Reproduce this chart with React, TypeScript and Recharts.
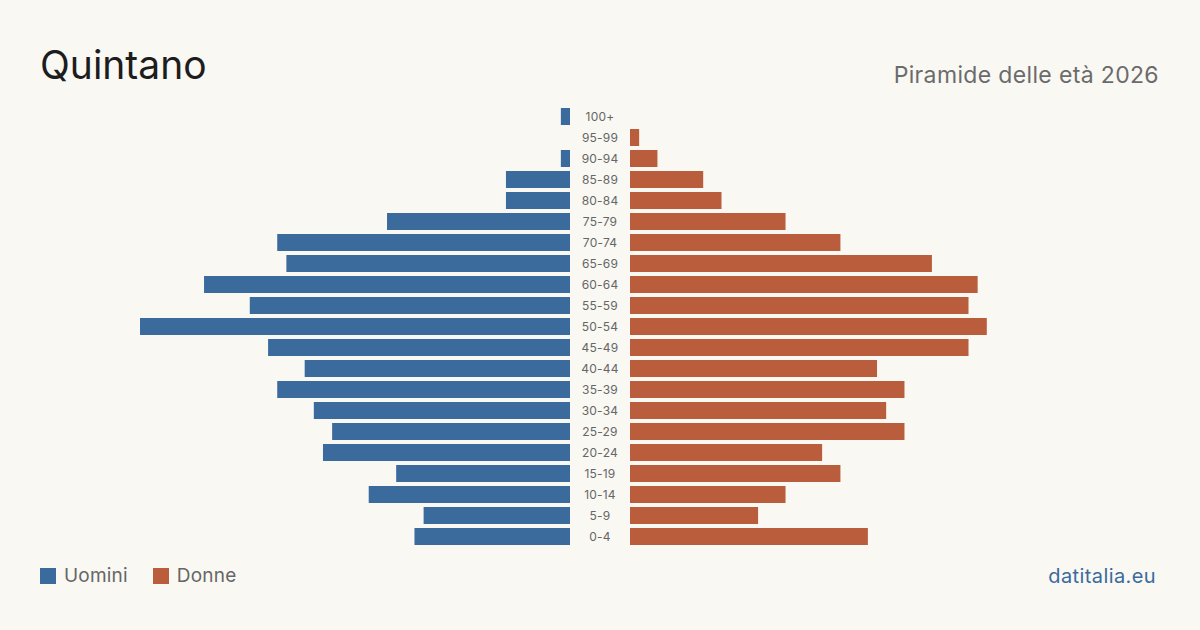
import React from 'react';
import { BarChart, Bar, XAxis, YAxis } from 'recharts';

const ageGroups = [
  '100+', '95-99', '90-94', '85-89', '80-84', '75-79', '70-74', '65-69', '60-64', '55-59', '50-54',
  '45-49', '40-44', '35-39', '30-34', '25-29', '20-24', '15-19', '10-14', '5-9', '0-4',
];
const uomini = [1, 0, 1, 7, 7, 20, 32, 31, 40, 35, 47, 33, 29, 32, 28, 26, 27, 19, 22, 16, 17];
const donne = [0, 1, 3, 8, 10, 17, 23, 33, 38, 37, 39, 37, 27, 30, 28, 30, 21, 23, 17, 14, 26];

const MAX = 47;
const BLUE = '#3b6a9c';
const ORANGE = '#b95d3c';
const FONT = 'Inter, "Noto Sans", sans-serif';

const data = ageGroups.map((age, i) => ({ age, uomini: uomini[i], donne: donne[i] }));

const AgeTick = (props: any) => {
  const { y, payload } = props;
  return (
    <text x={460} y={y} dy={4} textAnchor="middle" fontSize={12} fill="#666" fontFamily={FONT} letterSpacing={0.2}>
      {payload.value}
    </text>
  );
};

const App = () => {
  return (
    <div
      style={{
        position: 'absolute',
        left: 0,
        top: 0,
        width: 1200,
        height: 630,
        background: '#f9f8f3',
        fontFamily: FONT,
        overflow: 'hidden',
      }}
    >
      <div style={{ position: 'absolute', left: 40, top: 40, fontSize: 39, color: '#1d1d1d', lineHeight: '50px' }}>
        Quintano
      </div>
      <div
        style={{
          position: 'absolute',
          right: 41,
          top: 60,
          fontSize: 23,
          letterSpacing: 0.35,
          color: '#6b6b6b',
          lineHeight: '30px',
        }}
      >
        Piramide delle età 2026
      </div>

      <div style={{ position: 'absolute', left: 140, top: 106 }}>
        <BarChart width={490} height={441} data={data} layout="vertical" margin={{ top: 0, right: 0, bottom: 0, left: 0 }}>
          <XAxis type="number" domain={[0, MAX]} reversed hide />
          <YAxis
            type="category"
            dataKey="age"
            orientation="right"
            width={60}
            axisLine={false}
            tickLine={false}
            tick={<AgeTick />}
            interval={0}
          />
          <Bar dataKey="uomini" fill={BLUE} barSize={17} isAnimationActive={false} />
        </BarChart>
      </div>

      <div style={{ position: 'absolute', left: 630, top: 106 }}>
        <BarChart width={430} height={441} data={data} layout="vertical" margin={{ top: 0, right: 0, bottom: 0, left: 0 }}>
          <XAxis type="number" domain={[0, MAX]} hide />
          <YAxis type="category" dataKey="age" hide />
          <Bar dataKey="donne" fill={ORANGE} barSize={17} isAnimationActive={false} />
        </BarChart>
      </div>

      <div
        style={{
          position: 'absolute',
          left: 40,
          top: 564,
          display: 'flex',
          alignItems: 'center',
          fontSize: 19,
          letterSpacing: 0.2,
          color: '#666',
          lineHeight: '24px',
        }}
      >
        <span style={{ width: 16, height: 16, background: BLUE, display: 'inline-block', marginRight: 8 }} />
        <span style={{ marginRight: 25 }}>Uomini</span>
        <span style={{ width: 16, height: 16, background: ORANGE, display: 'inline-block', marginRight: 8 }} />
        <span>Donne</span>
      </div>
      <div
        style={{
          position: 'absolute',
          right: 44,
          top: 563,
          fontSize: 20,
          letterSpacing: 0.4,
          color: BLUE,
          lineHeight: '26px',
        }}
      >
        datitalia.eu
      </div>
    </div>
  );
};

export default App;
